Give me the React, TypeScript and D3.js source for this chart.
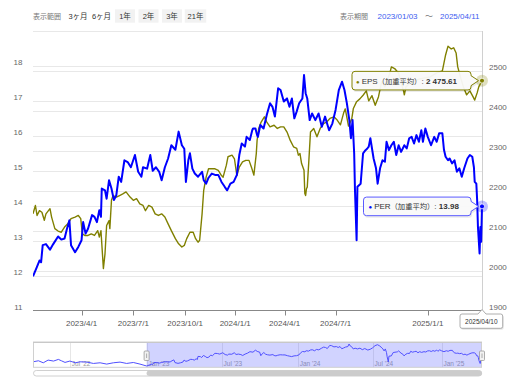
import React from "react";
import * as d3 from "d3";

// [trading-day index (0 = 2023/01/04, 555 = 2025/04/10), value]
const perSeries: [number, number][] = [
  [0,11.98],[4,12.2],[8,12.43],[10,12.38],[12,12.87],[16,12.9],[21,12.74],[25,12.9],[31,13.12],[35,13.03],
  [39,13.06],[42,13.34],[45,13.58],[47,12.87],[52,12.67],[56,12.82],[60,13.01],[62,13.53],[65,13.2],[68,13.34],
  [73,13.73],[76,13.68],[79,13.53],[82,13.87],[84,13.68],[85,14.49],[89,14.44],[91,14.2],[94,14.73],[97,14.49],
  [100,14.16],[103,14.3],[106,14.83],[109,14.68],[113,15.3],[117,15.25],[121,15.1],[126,15.45],[130,14.97],[134,14.83],
  [136,15.1],[141,15.06],[145,15.45],[148,15.0],[152,15.1],[156,14.97],[159,14.73],[163,15.1],[167,15.35],[171,15.73],
  [176,15.6],[180,16.12],[184,15.73],[187,15.63],[189,14.68],[192,15.3],[194,15.5],[197,15.06],[200,14.92],[204,14.83],
  [209,14.97],[211,14.73],[214,14.63],[217,14.8],[221,14.92],[225,14.88],[229,14.88],[233,14.68],[237,14.54],[240,14.44],
  [244,14.63],[248,14.68],[252,14.88],[255,15.45],[258,15.78],[262,15.69],[264,15.97],[268,15.88],[271,16.16],[272,16.21],
  [275,16.21],[277,16.02],[278,15.97],[281,16.31],[285,16.21],[289,16.6],[293,16.93],[296,16.83],[299,16.55],[303,17.36],
  [306,17.31],[310,16.98],[314,17.07],[317,16.83],[320,17.07],[323,16.5],[326,16.7],[329,16.93],[333,17.07],[335,17.74],
  [337,17.22],[339,17.07],[342,16.45],[345,16.64],[349,16.45],[353,16.64],[357,16.26],[361,16.55],[366,16.16],[370,16.35],
  [374,16.74],[378,17.31],[382,17.55],[385,17.31],[388,16.93],[391,16.45],[393,15.93],[395,16.45],[397,15.5],[398,14.44],
  [400,13.01],[401,14.54],[405,14.63],[408,15.5],[411,15.59],[413,15.63],[415,15.69],[417,15.93],[421,15.35],[424,15.07],
  [426,14.63],[429,15.07],[432,15.3],[435,15.26],[437,15.83],[440,15.59],[443,15.73],[446,15.83],[449,15.45],[452,15.73],
  [455,15.54],[459,15.73],[462,15.64],[465,15.93],[468,15.97],[471,15.78],[474,16.02],[477,15.83],[480,16.16],[482,15.83],
  [485,16.21],[488,15.97],[492,15.73],[496,15.97],[499,15.83],[502,16.07],[506,16.07],[508,15.6],[510,15.4],[513,15.3],
  [515,15.35],[518,15.21],[521,15.3],[524,14.97],[527,15.07],[530,14.83],[533,15.07],[537,15.35],[540,15.45],[543,15.4],
  [545,15.1],[546,14.68],[548,14.63],[549,14.16],[550,13.39],[552,12.63],[553,13.39],[554,12.97],[555,13.98]
];

const epsSeries: [number, number][] = [
  [0,2142],[3,2163],[5,2138],[8,2150],[11,2146],[14,2126],[16,2142],[21,2155],[23,2134],[27,2105],
  [31,2099],[35,2096],[39,2109],[43,2117],[47,2130],[52,2134],[56,2138],[59,2130],[61,2092],[64,2088],
  [68,2088],[72,2092],[76,2088],[80,2100],[82,2084],[84,2100],[87,2005],[89,2042],[91,2113],[94,2125],
  [95,2105],[97,2176],[99,2188],[103,2184],[107,2188],[111,2192],[115,2197],[120,2184],[124,2176],[128,2180],
  [132,2167],[136,2163],[139,2150],[143,2163],[147,2159],[151,2142],[155,2138],[159,2142],[163,2134],[167,2117],
  [171,2100],[176,2080],[180,2067],[184,2059],[187,2063],[190,2080],[194,2096],[198,2096],[201,2080],[204,2071],
  [206,2076],[209,2142],[211,2201],[214,2234],[217,2255],[221,2255],[225,2255],[229,2251],[233,2238],[235,2234],
  [239,2264],[241,2285],[246,2289],[249,2280],[252,2238],[255,2259],[259,2272],[263,2276],[267,2276],[270,2259],
  [273,2239],[276,2293],[277,2326],[279,2356],[282,2372],[286,2385],[289,2372],[293,2360],[298,2364],[302,2356],
  [306,2360],[310,2360],[314,2347],[318,2326],[322,2310],[326,2306],[328,2289],[330,2293],[332,2268],[335,2251],
  [336,2193],[337,2188],[338,2205],[339,2209],[341,2276],[343,2347],[347,2356],[351,2335],[355,2356],[359,2368],
  [363,2372],[367,2381],[372,2385],[376,2377],[380,2365],[384,2395],[386,2405],[390,2362],[394,2380],[396,2406],
  [400,2423],[404,2430],[408,2439],[412,2450],[415,2425],[419,2438],[423,2414],[427,2435],[431,2473],[435,2460],
  [441,2494],[443,2510],[447,2506],[452,2494],[455,2470],[458,2450],[459,2440],[461,2460],[466,2470],[478,2480],
  [491,2485],[499,2495],[506,2500],[510,2540],[513,2562],[517,2555],[520,2558],[523,2545],[525,2510],[529,2480],
  [532,2460],[536,2440],[540,2450],[544,2435],[546,2427],[549,2445],[551,2460],[555,2475.61]
];

// navigator-only PER history before the selected range
const navPer2022: [number, number][] = [
  [-188,13.08],[-179,13.35],[-171,12.82],[-163,13.53],[-154,13.27],[-146,13.71],[-141,13.35],[-135,12.92],
  [-127,13.27],[-118,12.82],[-110,13.08],[-99,13.0],[-88,12.65],[-77,12.82],[-66,12.48],[-55,12.82],
  [-44,13.0],[-33,12.65],[-22,12.9],[-11,12.48]
];

const xTickLabels = ["2023/4/1", "2023/7/1", "2023/10/1", "2024/1/1", "2024/4/1", "2024/7/1", "2025/1/1"];
const xTickDays = [60, 124, 188, 250, 311, 374, 488];
const leftTicks = [11, 12, 13, 14, 15, 16, 17, 18];
const rightTicks = [1900, 2000, 2100, 2200, 2300, 2400, 2500];
const navLabels = ["Jul '22", "Jan '23", "Jul '23", "Jan '24", "Jul '24", "Jan '25"];
const navLabelDays = [-127, 0, 124, 250, 374, 488];
const rangeButtons = ["3ヶ月", "6ヶ月", "1年", "2年", "3年", "21年"];
const periodFrom = "2023/01/03";
const periodTo = "2025/04/11";
const lastDateLabel = "2025/04/10";
const perName = "PER";
const epsName = "EPS";

const FONT = "'Liberation Sans', 'Noto Sans CJK JP', sans-serif";
const PER_COLOR = "#0000ff";
const EPS_COLOR = "#808000";

const PL = 33, PR = 482, PT = 31, PB = 310.5;
const NT = 342, NB = 367.3;

const fmtEps = d3.formatLocale({ decimal: ".", thousands: " ", grouping: [3], currency: ["", ""] }).format(",.2f");
const fmtPer = d3.format(".2f");

function callout(px: number, py: number, w: number, h: number) {
  const right = px - 11, left = right - w, top = py - h / 2, bottom = py + h / 2, r = 3;
  return `M${left + r},${top} L${right - r},${top} Q${right},${top} ${right},${top + r} L${right},${py - 5} L${px - 3.5},${py} L${right},${py + 5} L${right},${bottom - r} Q${right},${bottom} ${right - r},${bottom} L${left + r},${bottom} Q${left},${bottom} ${left},${bottom - r} L${left},${top + r} Q${left},${top} ${left + r},${top} Z`;
}

export default function App() {
  const firstDay = d3.min(perSeries, (d) => d[0])!;
  const lastDay = d3.max(perSeries, (d) => d[0])!;
  const x = d3.scaleLinear().domain([firstDay, lastDay]).range([PL, PR]);
  const yL = d3.scaleLinear().domain([11, 19]).range([PB, PT]);
  const yR = d3.scaleLinear().domain([1900, 2600]).range([PB, PT]);

  const navData = navPer2022.concat(perSeries);
  const xN = d3.scaleLinear().domain([d3.min(navData, (d) => d[0])!, lastDay]).range([PL, PR]);
  const yN = d3.scaleLinear().domain(d3.extent(navData, (d) => d[1]) as [number, number]).range([366, 344]);

  const perLine = d3.line<[number, number]>().x((d) => x(d[0])).y((d) => yL(d[1]));
  const epsLine = d3.line<[number, number]>().x((d) => x(d[0])).y((d) => yR(d[1]));
  const navLine = d3.line<[number, number]>().x((d) => xN(d[0])).y((d) => yN(d[1]));

  const lastPer = perSeries[perSeries.length - 1];
  const lastEps = epsSeries[epsSeries.length - 1];
  const pPer = [x(lastPer[0]), yL(lastPer[1])];
  const pEps = [x(lastEps[0]), yR(lastEps[1])];

  const leftGrid = d3.range(12, 20);
  const rightGrid = d3.range(2000, 2700, 100);

  const selX0 = xN(firstDay);
  const selX1 = xN(lastDay);

  return (
    <svg width={520} height={380} style={{ position: "absolute", left: 0, top: 0, background: "#fff" }} fontFamily={FONT}>
      <defs>
        <clipPath id="plotClip">
          <rect x={PL} y={PT - 2} width={PR - PL + 1} height={PB - PT + 4} />
        </clipPath>
        <clipPath id="navClip">
          <rect x={PL} y={NT} width={PR - PL} height={NB - NT} />
        </clipPath>
      </defs>

      {/* header */}
      <text x={33} y={18.5} fontSize={7} fill="#777">表示範囲</text>
      {rangeButtons.map((b, i) => {
        const cx = 78 + i * 23.5;
        const w = b.length > 2 ? 21.5 : 20;
        return (
          <g key={b}>
            {i >= 2 && <rect x={cx - w / 2} y={9.3} width={w} height={13.4} fill="#f2f2f2" />}
            <text x={cx} y={18.5} fontSize={7.5} fill="#333" textAnchor="middle">{b}</text>
          </g>
        );
      })}
      <text x={340} y={18.5} fontSize={7} fill="#777">表示期間</text>
      <text x={377.5} y={18.5} fontSize={8} fill="#3d5cf0">{periodFrom}</text>
      <text x={429} y={18.5} fontSize={8} fill="#777" textAnchor="middle">〜</text>
      <text x={440} y={18.5} fontSize={8} fill="#3d5cf0">{periodTo}</text>

      {/* gridlines */}
      {leftGrid.map((t) => (
        <line key={"gl" + t} x1={PL} x2={PR} y1={Math.round(yL(t)) + 0.5} y2={Math.round(yL(t)) + 0.5} stroke="#e8e8e8" />
      ))}
      {rightGrid.map((t) => (
        <line key={"gr" + t} x1={PL} x2={PR} y1={Math.round(yR(t)) + 0.5} y2={Math.round(yR(t)) + 0.5} stroke="#e8e8e8" />
      ))}

      {/* axis labels */}
      {leftTicks.map((t) => (
        <text key={"ll" + t} x={22.5} y={yL(t) - 0.5} fontSize={8} fill="#666" textAnchor="end">{t}</text>
      ))}
      {rightTicks.map((t) => (
        <text key={"rl" + t} x={489} y={yR(t) - 0.5} fontSize={8} fill="#666">{t}</text>
      ))}

      {/* crosshair */}
      <line x1={pPer[0] + 0.5} x2={pPer[0] + 0.5} y1={PT} y2={PB} stroke="#d0d0d0" />

      {/* series */}
      <g clipPath="url(#plotClip)">
        <path d={epsLine(epsSeries)!} fill="none" stroke={EPS_COLOR} strokeWidth={1.4} strokeLinejoin="round" />
        <path d={perLine(perSeries)!} fill="none" stroke={PER_COLOR} strokeWidth={2} strokeLinejoin="round" />
      </g>

      {/* x axis */}
      <line x1={PL} x2={PR} y1={PB} y2={PB} stroke="#888" />
      {xTickDays.map((d, i) => (
        <g key={"xt" + i}>
          <line x1={Math.round(x(d)) + 0.5} x2={Math.round(x(d)) + 0.5} y1={PB} y2={PB + 5} stroke="#888" />
          <text x={x(d)} y={326} fontSize={8} fill="#555" textAnchor="middle">{xTickLabels[i]}</text>
        </g>
      ))}

      {/* markers */}
      <circle cx={pEps[0]} cy={pEps[1]} r={6} fill={EPS_COLOR} opacity={0.25} />
      <circle cx={pEps[0]} cy={pEps[1]} r={2.5} fill={EPS_COLOR} stroke="#fff" strokeWidth={0.8} />
      <circle cx={pPer[0]} cy={pPer[1]} r={6} fill={PER_COLOR} opacity={0.25} />
      <circle cx={pPer[0]} cy={pPer[1]} r={2.5} fill={PER_COLOR} stroke="#fff" strokeWidth={0.8} />

      {/* tooltips */}
      <path d={callout(pEps[0], pEps[1] + 1, 119, 18.6)} fill="rgba(0,0,0,0.08)" transform="translate(1,1)" />
      <path d={callout(pEps[0], pEps[1], 119, 18.6)} fill="rgba(250,250,250,0.95)" stroke={EPS_COLOR} strokeWidth={1} />
      <text x={pEps[0] - 11 - 119 + 4} y={pEps[1] + 3} fontSize={8} fill="#333">
        <tspan fill={EPS_COLOR} fontSize={6}>●</tspan>
        <tspan dx={2}>{epsName}</tspan>
        <tspan fontSize={7.3}>（加重平均）</tspan>
        <tspan>: </tspan>
        <tspan fontWeight="bold">{fmtEps(lastEps[1])}</tspan>
      </text>

      <path d={callout(pPer[0], pPer[1] + 1, 107.5, 18.6)} fill="rgba(0,0,0,0.08)" transform="translate(1,1)" />
      <path d={callout(pPer[0], pPer[1], 107.5, 18.6)} fill="rgba(250,250,250,0.95)" stroke="#5a5aff" strokeWidth={1} />
      <text x={pPer[0] - 11 - 107.5 + 5} y={pPer[1] + 3} fontSize={8} fill="#333">
        <tspan fill={PER_COLOR} fontSize={6}>●</tspan>
        <tspan dx={2}>{perName}</tspan>
        <tspan fontSize={7.3}>（加重平均）</tspan>
        <tspan>: </tspan>
        <tspan fontWeight="bold">{fmtPer(lastPer[1])}</tspan>
      </text>

      {/* x-axis date tooltip */}
      {(() => {
        const px = pPer[0], top = 314, bot = 328.3, l = px - 22, r = px + 20.7, rr = 2;
        const d = `M${l + rr},${top} L${px - 4},${top} L${px},${top - 4.5} L${px + 4},${top} L${r - rr},${top} Q${r},${top} ${r},${top + rr} L${r},${bot - rr} Q${r},${bot} ${r - rr},${bot} L${l + rr},${bot} Q${l},${bot} ${l},${bot - rr} L${l},${top + rr} Q${l},${top} ${l + rr},${top} Z`;
        return (
          <g>
            <path d={d} fill="rgba(0,0,0,0.1)" transform="translate(1,1.5)" />
            <path d={d} fill="#fff" stroke="#999" strokeWidth={0.8} />
            <text x={(l + r) / 2} y={323.6} fontSize={6.5} fill="#333" textAnchor="middle">{lastDateLabel}</text>
          </g>
        );
      })()}

      {/* navigator */}
      <rect x={PL} y={NT} width={PR - PL} height={NB - NT} fill="#fff" />
      {navLabelDays.map((d, i) => (
        <g key={"nl" + i}>
          <line x1={Math.round(xN(d)) + 0.5} x2={Math.round(xN(d)) + 0.5} y1={NT} y2={NB} stroke="#e6e6e6" />
          <text x={xN(d) + 2} y={365.8} fontSize={6.5} fill="#999">{navLabels[i]}</text>
        </g>
      ))}
      <rect x={selX0} y={NT} width={selX1 - selX0} height={NB - NT} fill="rgba(102,110,255,0.3)" />
      <g clipPath="url(#navClip)">
        <path d={navLine(navData)!} fill="none" stroke="#5050ff" strokeWidth={1} />
      </g>
      <rect x={PL + 0.5} y={NT} width={PR - PL - 1} height={NB - NT} fill="none" stroke="#d0d0d0" />
      <line x1={PL} x2={PR} y1={NT + 0.5} y2={NT + 0.5} stroke="#c8c8c8" strokeWidth={1.2} />
      {[selX0, selX1].map((hx, i) => (
        <g key={"h" + i}>
          <rect x={hx - 2.5} y={351} width={5} height={9.5} rx={1} fill="#f2f2f2" stroke="#999" strokeWidth={0.8} />
          <line x1={hx} x2={hx} y1={353.5} y2={358} stroke="#999" strokeWidth={0.8} />
        </g>
      ))}

      {/* scrollbar */}
      <rect x={PL + 0.5} y={370.5} width={PR - PL - 1} height={5.5} rx={2.75} fill="#fff" stroke="#d0d0d0" />
      <rect x={selX0} y={370.5} width={selX1 - selX0} height={5.5} rx={2.75} fill="#cccccc" />
    </svg>
  );
}
